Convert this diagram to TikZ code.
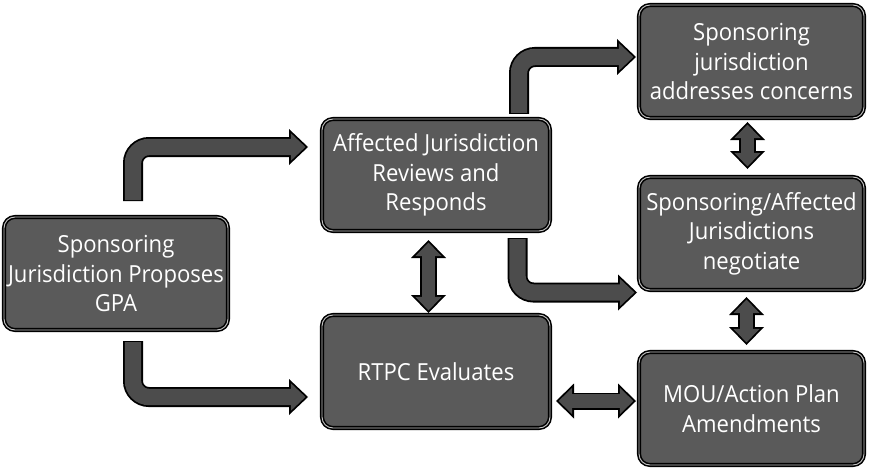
\documentclass[tikz,border=0pt]{standalone}
\usepackage{fontspec}
\setmainfont{Open Sans}[FakeStretch=0.94]
\usetikzlibrary{arrows.meta,calc}
\definecolor{boxfill}{HTML}{5A5A5A}
\definecolor{boxline}{HTML}{C8C8C8}
\definecolor{arrfill}{HTML}{4C4C4C}
\begin{document}
\begin{tikzpicture}[x=1pt,y=-1pt]
\tikzset{
 box/.style={draw=black, line width=1.6pt, double=boxline, double distance=0.9pt, fill=boxfill, rounded corners=11pt, inner sep=0pt, outer sep=0pt},
 boxtext/.style={text=white, align=center, inner sep=0pt, font=\fontsize{23.5}{29.5}\selectfont},
 Lback/.style={draw=black, line width=20pt, rounded corners=16pt, shorten <=-1pt, -{Triangle[length=19pt,width=36pt,line width'=0pt]}},
 Lfront/.style={draw=arrfill, line width=16.4pt, rounded corners=16pt, shorten >=2.6pt, -{Triangle[length=14.6pt,width=27.7pt,line width'=0pt]}},
 Dback/.style={draw=black, line width=17pt, {Triangle[length=18pt,width=35pt,line width'=0pt]}-{Triangle[length=18pt,width=35pt,line width'=0pt]}},
 Dfront/.style={draw=arrfill, line width=13.4pt, shorten >=2.6pt, shorten <=2.6pt, {Triangle[length=13.6pt,width=26.4pt,line width'=0pt]}-{Triangle[length=13.6pt,width=26.4pt,line width'=0pt]}},
}
\useasboundingbox (0,0) rectangle (869,468);
% boxes
\node[box, minimum width=224pt, minimum height=113pt] (spon) at (116,273.5) {};
\node[box, minimum width=228pt, minimum height=112pt] (aff) at (436,175) {};
\node[box, minimum width=228pt, minimum height=113pt] (rtpc) at (436,371.5) {};
\node[box, minimum width=225pt, minimum height=113pt] (sjac) at (751.5,61.5) {};
\node[box, minimum width=225pt, minimum height=113pt] (neg) at (751.5,233.5) {};
\node[box, minimum width=225pt, minimum height=113pt] (mou) at (751.5,408.5) {};
% texts
\node[boxtext] (spont) at (spon.center) {Sponsoring\\Jurisdiction Proposes\\GPA};
\node[boxtext] (afft) at (aff.center) {Affected Jurisdiction\\Reviews and\\Responds};
\node[boxtext] (rtpct) at (rtpc.center) {RTPC Evaluates};
\node[boxtext] (sjact) at (sjac.center) {Sponsoring\\jurisdiction\\addresses concerns};
\node[boxtext] (negt) at (neg.center) {Sponsoring/Affected\\Jurisdictions\\negotiate};
\node[boxtext] (mout) at (mou.center) {MOU/Action Plan\\Amendments};
% L-shaped arrows
\coordinate (l1s) at ($(spon.north)+(17,-17)$);
\coordinate (l1e) at ($(aff.west)+(-14,-28)$);
\coordinate (l2s) at ($(spon.south)+(17,12)$);
\coordinate (l2e) at ($(rtpc.west)+(-14,25.5)$);
\coordinate (l3s) at ($(aff.north)+(83,-6)$);
\coordinate (l3e) at ($(sjac.west)+(-3,-4.5)$);
\coordinate (l4s) at ($(aff.south)+(81.5,8)$);
\coordinate (l4e) at ($(neg.west)+(-2,59)$);
\foreach \s/\e in {l1s/l1e,l2s/l2e,l3s/l3e,l4s/l4e}{
  \draw[Lback] (\s) |- (\e);
  \draw[Lfront] (\s) |- (\e);
}
% double arrows
\coordinate (d1a) at ($(aff.south)+(-7.5,9)$);
\coordinate (d1b) at ($(rtpc.north)+(-7.5,-2)$);
\coordinate (d2a) at ($(sjac.south)+(-4,4)$);
\coordinate (d2b) at ($(neg.north)+(-4,-8)$);
\coordinate (d3a) at ($(neg.south)+(-5,7)$);
\coordinate (d3b) at ($(mou.north)+(-5,-7)$);
\coordinate (d4a) at ($(rtpc.east)+(6,29.5)$);
\coordinate (d4b) at ($(mou.west)+(-3,-7.5)$);
\foreach \a/\b in {d1a/d1b,d2a/d2b,d3a/d3b,d4a/d4b}{
  \draw[Dback] (\a) -- (\b);
  \draw[Dfront] (\a) -- (\b);
}
\end{tikzpicture}
\end{document}
